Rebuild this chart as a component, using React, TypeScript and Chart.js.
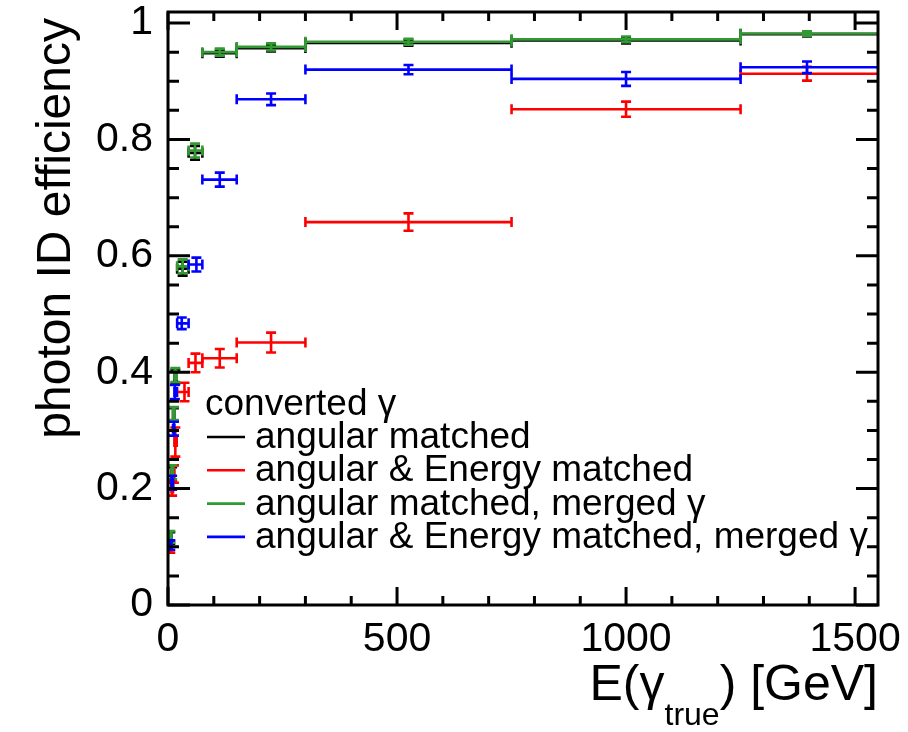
import React, { useEffect, useRef } from "react";
import { Chart, registerables } from "chart.js";

Chart.register(...registerables);

// Bin edges (GeV) shared by all series
const binLow = [2.5, 7.5, 11, 14, 20, 45, 75, 150, 300, 750, 1250];
const binHigh = [7.5, 11, 14, 19, 45, 75, 150, 300, 750, 1250, 1750];

// angular matched (black)
const blackE = [5, 9, 13, 16, 32, 59, 113, 225, 525, 1000, 1395];
const blackEff = [0.115, 0.225, 0.327, 0.392, 0.578, 0.777, 0.948, 0.957, 0.966, 0.97, 0.981];
const blackErr = [0.01, 0.012, 0.011, 0.012, 0.012, 0.012, 0.006, 0.006, 0.005, 0.005, 0.004];

// angular & Energy matched (red)
const redE = [5, 9, 13, 16, 36, 60, 113, 225, 525, 1000, 1395];
const redEff = [0.1, 0.2, 0.225, 0.28, 0.366, 0.416, 0.424, 0.451, 0.658, 0.852, 0.913];
const redErr = [0.01, 0.012, 0.015, 0.025, 0.016, 0.016, 0.016, 0.017, 0.015, 0.013, 0.012];

// angular matched, merged gamma (green)
const greenE = [5, 9, 13, 16, 32, 59, 113, 225, 525, 1000, 1395];
const greenEff = [0.117, 0.228, 0.329, 0.395, 0.582, 0.781, 0.95, 0.959, 0.968, 0.972, 0.982];
const greenErr = [0.01, 0.012, 0.011, 0.012, 0.012, 0.012, 0.006, 0.006, 0.005, 0.005, 0.004];

// angular & Energy matched, merged gamma (blue)
const blueE = [5, 9, 13, 15, 30, 62, 113, 225, 525, 1000, 1395];
const blueEff = [0.103, 0.21, 0.303, 0.366, 0.484, 0.585, 0.731, 0.869, 0.92, 0.904, 0.924];
const blueErr = [0.008, 0.012, 0.012, 0.012, 0.01, 0.012, 0.012, 0.01, 0.008, 0.012, 0.01];

const xTicks = [0, 500, 1000, 1500];
const yTicks = [0, 0.2, 0.4, 0.6, 0.8, 1];

const legendHeader = "converted γ";
const legendLabels = [
  "angular matched",
  "angular & Energy matched",
  "angular matched, merged γ",
  "angular & Energy matched, merged γ",
];
const colors = ["#000000", "#ff0000", "#339933", "#0000ff"];

const FONT = '"Liberation Sans", Arial, Helvetica, sans-serif';

export default function App() {
  const ref = useRef<HTMLCanvasElement>(null);

  useEffect(() => {
    if (!ref.current) return;
    const series = [
      { e: blackE, eff: blackEff, err: blackErr },
      { e: redE, eff: redEff, err: redErr },
      { e: greenE, eff: greenEff, err: greenErr },
      { e: blueE, eff: blueEff, err: blueErr },
    ];
    const datasets = series.map((s, k) => ({
      label: legendLabels[k],
      data: s.e.map((x, i) => ({ x, y: s.eff[i] })),
      borderColor: colors[k],
      backgroundColor: colors[k],
      pointRadius: 0,
      pointHoverRadius: 0,
      showLine: false,
      xLow: binLow,
      xHigh: binHigh,
      yErr: s.err,
    }));

    const errorBars = {
      id: "errorBars",
      afterDatasetsDraw(chart: any) {
        const { ctx, chartArea: a, scales } = chart;
        const xs = scales.x, ys = scales.y;
        ctx.save();
        ctx.beginPath();
        ctx.rect(a.left, a.top, a.right - a.left, a.bottom - a.top);
        ctx.clip();
        chart.data.datasets.forEach((ds: any) => {
          ctx.strokeStyle = ds.borderColor;
          ctx.lineWidth = 2.6;
          ds.data.forEach((p: any, i: number) => {
            const px = xs.getPixelForValue(p.x);
            const py = ys.getPixelForValue(p.y);
            const xl = xs.getPixelForValue(ds.xLow[i]);
            const xh = xs.getPixelForValue(ds.xHigh[i]);
            const yl = ys.getPixelForValue(p.y - ds.yErr[i]);
            const yh = ys.getPixelForValue(p.y + ds.yErr[i]);
            const c = 5;
            ctx.beginPath();
            ctx.moveTo(xl, py); ctx.lineTo(xh, py);
            ctx.moveTo(xl, py - c); ctx.lineTo(xl, py + c);
            ctx.moveTo(xh, py - c); ctx.lineTo(xh, py + c);
            ctx.moveTo(px, yl); ctx.lineTo(px, yh);
            ctx.moveTo(px - c, yl); ctx.lineTo(px + c, yl);
            ctx.moveTo(px - c, yh); ctx.lineTo(px + c, yh);
            ctx.stroke();
          });
        });
        ctx.restore();
      },
    };

    const frame = {
      id: "frame",
      afterDraw(chart: any) {
        const { ctx, chartArea: a, scales } = chart;
        const xs = scales.x, ys = scales.y;
        ctx.save();
        ctx.strokeStyle = "#000";
        ctx.lineWidth = 3;
        ctx.strokeRect(a.left, a.top, a.right - a.left, a.bottom - a.top);
        ctx.beginPath();
        // y ticks every 0.05
        for (let k = 0; k <= 20; k++) {
          const v = k * 0.05;
          const py = ys.getPixelForValue(v);
          const len = k % 4 === 0 ? 22 : 11;
          ctx.moveTo(a.left, py); ctx.lineTo(a.left + len, py);
          ctx.moveTo(a.right, py); ctx.lineTo(a.right - len, py);
        }
        // x ticks every 100
        for (let k = 0; k <= 15; k++) {
          const v = k * 100;
          const px = xs.getPixelForValue(v);
          const len = k % 5 === 0 ? 18 : 9;
          ctx.moveTo(px, a.bottom); ctx.lineTo(px, a.bottom - len);
          ctx.moveTo(px, a.top); ctx.lineTo(px, a.top + len);
        }
        ctx.stroke();

        // Legend
        ctx.fillStyle = "#000";
        ctx.font = `37px ${FONT}`;
        ctx.textAlign = "left";
        ctx.textBaseline = "alphabetic";
        ctx.fillText(legendHeader, 205, 415);
        legendLabels.forEach((lab, i) => {
          const cy = 437 + i * 33.3;
          ctx.strokeStyle = colors[i];
          ctx.lineWidth = 2.6;
          ctx.beginPath();
          ctx.moveTo(207, cy);
          ctx.lineTo(245, cy);
          ctx.stroke();
          ctx.fillText(lab, 255, cy + 11);
        });

        // Y title
        ctx.save();
        ctx.font = `48px ${FONT}`;
        ctx.translate(70, 18);
        ctx.rotate(-Math.PI / 2);
        ctx.textAlign = "right";
        ctx.fillText("photon ID efficiency", 0, 0);
        ctx.restore();

        // X title: E(γ_true) [GeV], right aligned
        const big = `50px ${FONT}`;
        const small = `32px ${FONT}`;
        const p1 = "E(γ", p2 = "true", p3 = ") [GeV]";
        ctx.font = big;
        const w1 = ctx.measureText(p1).width;
        const w3 = ctx.measureText(p3).width;
        ctx.font = small;
        const w2 = ctx.measureText(p2).width;
        const x0 = a.right - (w1 + w2 + w3);
        const base = 700;
        ctx.textAlign = "left";
        ctx.font = big;
        ctx.fillText(p1, x0, base);
        ctx.font = small;
        ctx.fillText(p2, x0 + w1, base + 25);
        ctx.font = big;
        ctx.fillText(p3, x0 + w1 + w2, base);
        ctx.restore();
      },
    };

    const chart = new Chart(ref.current, {
      type: "scatter",
      data: { datasets } as any,
      options: {
        animation: false,
        responsive: false,
        events: [],
        layout: { padding: { left: 0, top: 12, right: 30, bottom: 0 } },
        plugins: { legend: { display: false }, tooltip: { enabled: false }, title: { display: false } },
        scales: {
          x: {
            type: "linear",
            min: 0,
            max: 1550,
            grid: { display: false, drawTicks: false },
            border: { display: false },
            afterFit: (s: any) => { s.height = 127; s.paddingLeft = 0; s.paddingRight = 0; },
            afterBuildTicks: (s: any) => { s.ticks = xTicks.map((v) => ({ value: v })); },
            ticks: {
              color: "#000",
              padding: 10,
              maxRotation: 0,
              autoSkip: false,
              font: { family: FONT, size: 41 },
              callback: (v: any) => String(v),
            },
          },
          y: {
            type: "linear",
            min: 0,
            max: 1.019,
            grid: { display: false, drawTicks: false },
            border: { display: false },
            afterFit: (s: any) => { s.width = 168; s.paddingTop = 0; s.paddingBottom = 0; },
            afterBuildTicks: (s: any) => { s.ticks = yTicks.map((v) => ({ value: v })); },
            ticks: {
              color: "#000",
              padding: 15,
              autoSkip: false,
              font: { family: FONT, size: 41 },
              callback: (v: any) => String(Number(Number(v).toFixed(1))),
            },
          },
        },
      },
      plugins: [errorBars, frame],
    });
    return () => chart.destroy();
  }, []);

  return (
    <div style={{ position: "absolute", left: 0, top: 0, width: 908, height: 732, background: "#fff" }}>
      <canvas ref={ref} width={908} height={732} style={{ width: 908, height: 732, display: "block" }} />
    </div>
  );
}
